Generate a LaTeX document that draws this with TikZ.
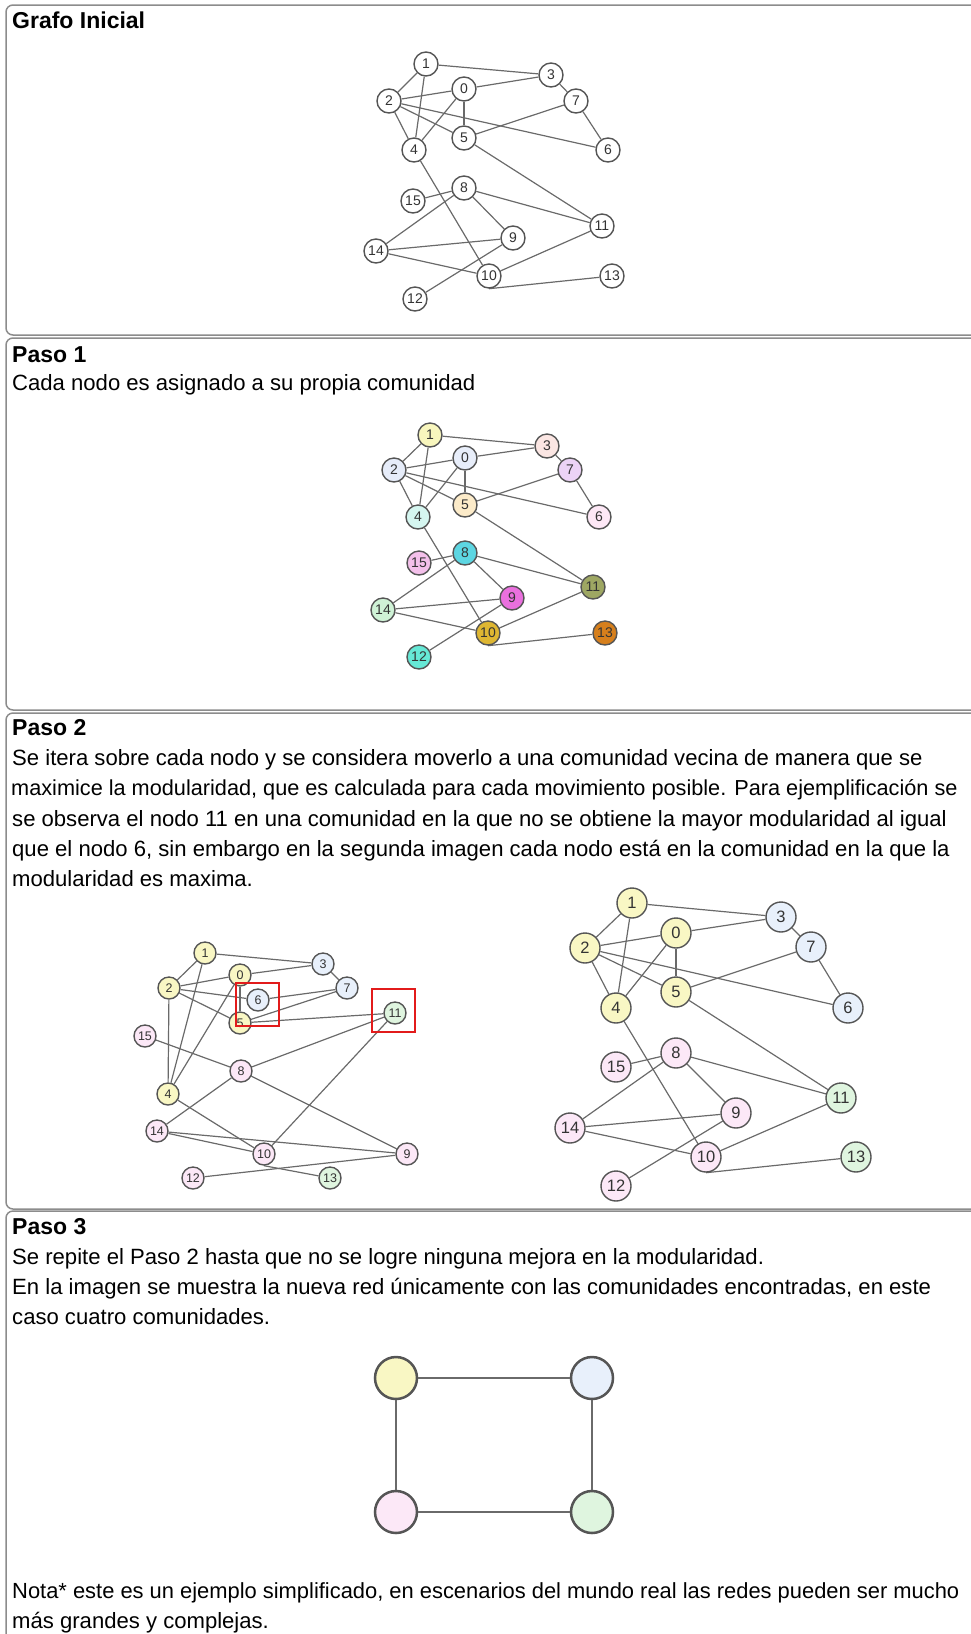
\documentclass[tikz,border=0pt]{standalone}
\usepackage{fontspec}
\setmainfont{Liberation Sans}
\usetikzlibrary{backgrounds}
\definecolor{edgegray}{HTML}{6A6A6A}
\definecolor{nodegray}{HTML}{555555}
\definecolor{textgray}{HTML}{333333}
\definecolor{panelgray}{HTML}{8C8C8C}
\definecolor{redbox}{HTML}{E21B1B}
% Paso 1 colours
\definecolor{p0}{HTML}{E8EEFA}
\definecolor{p1}{HTML}{F8F6BD}
\definecolor{p2}{HTML}{E6ECF9}
\definecolor{p3}{HTML}{FBE6E3}
\definecolor{p4}{HTML}{D5F6F0}
\definecolor{p5}{HTML}{FCEBC9}
\definecolor{p6}{HTML}{FDE8F6}
\definecolor{p7}{HTML}{ECD3F6}
\definecolor{p8}{HTML}{5DD6E2}
\definecolor{p9}{HTML}{EA70DE}
\definecolor{p10}{HTML}{DEB632}
\definecolor{p11}{HTML}{9EA763}
\definecolor{p12}{HTML}{66E8D6}
\definecolor{p13}{HTML}{D67F1C}
\definecolor{p14}{HTML}{CFF2D6}
\definecolor{p15}{HTML}{F3C0EA}
% community colours
\definecolor{cy}{HTML}{F9F7C4}
\definecolor{cb}{HTML}{E8F0FB}
\definecolor{cp}{HTML}{FCE8F7}
\definecolor{cg}{HTML}{DFF5DF}
\tikzset{
  edge/.style={draw=edgegray, line width=1.2pt},
  gnode/.style={circle, draw=nodegray, line width=1.4pt, fill=white, inner sep=0pt, text=textgray},
  panel/.style={draw=panelgray, line width=1.5pt, rounded corners=7pt},
  titletext/.style={anchor=base west, inner sep=0pt, font=\fontsize{23}{26}\selectfont\bfseries},
  bodytext/.style={anchor=base west, inner sep=0pt, font=\fontsize{22.1}{26}\selectfont},
  bignode/.style={circle, draw=nodegray, line width=2.5pt, minimum size=42pt, inner sep=0pt},
  bigedge/.style={draw=edgegray, line width=2pt},
  redsq/.style={draw=redbox, line width=2.5pt},
}
\begin{document}
\begin{tikzpicture}[x=1pt,y=-1pt]
\useasboundingbox (0,0) rectangle (971,1634);

% panels
\draw[panel] (1000,5) -- (6,5) -- (6,335) -- (1000,335);
\draw[panel] (1000,338) -- (6,338) -- (6,710) -- (1000,710);
\draw[panel] (1000,713) -- (6,713) -- (6,1209) -- (1000,1209);
\draw[panel] (1000,1211) -- (6,1211) -- (6,1660);

% texts
\node[titletext] (t0) at (12,28) {Grafo Inicial};
\node[titletext] (t1) at (12,362) {Paso 1};
\node[bodytext] (t1a) at (12,390) {Cada nodo es asignado a su propia comunidad};
\node[titletext] (t2) at (12,735) {Paso 2};
\node[bodytext] (t2a) at (12,765) {Se itera sobre cada nodo y se considera moverlo a una comunidad vecina de manera que se};
\node[bodytext, font=\fontsize{21.7}{26}\selectfont] (t2b) at (11,795.5) {maximice la modularidad, que es calculada para cada movimiento posible. Para ejemplificación se};
\node[bodytext] (t2c) at (12,826) {se observa el nodo 11 en una comunidad en la que no se obtiene la mayor modularidad al igual};
\node[bodytext] (t2d) at (12,856) {que el nodo 6, sin embargo en la segunda imagen cada nodo está en la comunidad en la que la};
\node[bodytext] (t2e) at (12,886.5) {modularidad es maxima.};
\node[titletext] (t3) at (12,1234) {Paso 3};
\node[bodytext] (t3a) at (12,1264) {Se repite el Paso 2 hasta que no se logre ninguna mejora en la modularidad.};
\node[bodytext] (t3b) at (12,1294) {En la imagen se muestra la nueva red únicamente con las comunidades encontradas, en este};
\node[bodytext] (t3c) at (12,1324) {caso cuatro comunidades.};
\node[bodytext, font=\fontsize{21.9}{26}\selectfont] (t3d) at (12,1598) {Nota* este es un ejemplo simplificado, en escenarios del mundo real las redes pueden ser mucho};
\node[bodytext] (t3e) at (12,1628) {más grandes y complejas.};

% ---------- Grafo inicial ----------
\foreach \n/\x/\y in {1/426/64,3/551/75,0/464/89,2/389/101,7/576/101,5/464/138,4/414/150,6/608/150,8/464/188,15/413/201,11/602/226,9/513/238,14/376/251,10/489/276,13/612/276,12/415/299}
  \node[gnode, minimum size=24pt, font=\fontsize{14}{14}\selectfont] (a\n) at (\x,\y) {\n};

% ---------- Paso 1 ----------
\foreach \n/\x/\y in {1/430/435,3/547/446,0/465/458,2/394/470,7/570/470,5/465/505,4/418/517,6/599/517,8/465/553,15/419/563,11/593/587,9/512/598,14/383/610,10/488/633,13/605/633,12/419/657}
  \node[gnode, minimum size=24pt, fill=p\n, font=\fontsize{14}{14}\selectfont] (b\n) at (\x,\y) {\n};

% ---------- Paso 2 left ----------
\foreach \n/\x/\y/\c in {1/205/953/cy,3/323/964/cb,0/240/975/cy,2/169/988/cy,7/347/988/cb,6/258/1000/cb,11/395/1013/cg,5/240/1023/cy,15/145/1036/cp,8/241/1071/cp,4/168/1094/cy,14/157/1131/cp,10/264/1154/cp,9/407/1154/cp,12/193/1178/cp,13/330/1178/cg}
  \node[gnode, minimum size=22pt, fill=\c, font=\fontsize{12.5}{12.5}\selectfont] (c\n) at (\x,\y) {\n};

% ---------- Paso 2 right ----------
\foreach \n/\x/\y/\c in {1/632/903/cy,3/781/917/cb,0/676/933/cy,2/585/948/cy,7/811/947/cb,5/676/992/cy,4/616/1008/cy,6/848/1008/cb,8/676/1053/cp,15/616/1067/cp,11/841/1098/cg,9/736/1113/cp,14/570/1128/cp,10/706/1157/cp,13/856/1157/cg,12/616/1186/cp}
  \node[gnode, minimum size=30pt, fill=\c, font=\fontsize{16.5}{16.5}\selectfont] (d\n) at (\x,\y) {\n};

% edges
\begin{scope}[on background layer]
\foreach \p in {a,b,c,d}{
  \foreach \u/\v in {1/2,1/3,1/4,0/2,0/3,0/5,0/4,2/5,2/6,2/4,3/7,7/5,7/6,5/11,4/10,8/15,8/14,8/11,8/9,14/9,14/10,9/12,10/11}
    \draw[edge] (\p\u) -- (\p\v);
  \draw[edge] (\p10.south) -- (\p13);
}
\end{scope}

% red squares
\draw[redsq] (236,983) rectangle (279,1026);
\draw[redsq] (372,989) rectangle (415,1032);

% ---------- Paso 3 ----------
\node[bignode, fill=cy] (ey) at (396,1378) {};
\node[bignode, fill=cb] (eb) at (592,1378) {};
\node[bignode, fill=cp] (ep) at (396,1512) {};
\node[bignode, fill=cg] (eg) at (592,1512) {};
\draw[bigedge] (ey) -- (eb);
\draw[bigedge] (ey) -- (ep);
\draw[bigedge] (eb) -- (eg);
\draw[bigedge] (ep) -- (eg);
\end{tikzpicture}
\end{document}
